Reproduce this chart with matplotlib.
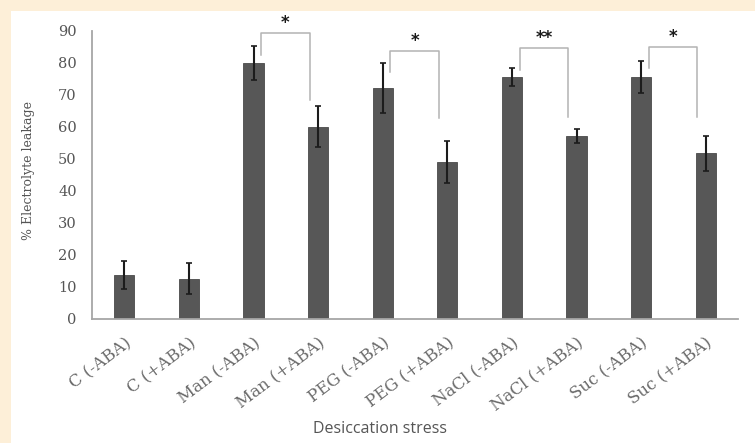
import matplotlib
matplotlib.use("Agg")
import matplotlib.pyplot as plt
from matplotlib.patches import Rectangle

# Electrolyte leakage under desiccation stress, with and without ABA
categories = ["C (-ABA)", "C (+ABA)", "Man (-ABA)", "Man (+ABA)",
              "PEG (-ABA)", "PEG (+ABA)", "NaCl (-ABA)", "NaCl (+ABA)",
              "Suc (-ABA)", "Suc (+ABA)"]
leakage = [13.8, 12.6, 80.0, 60.1, 72.1, 49.0, 75.6, 57.2, 75.6, 51.8]
leakage_err = [4.4, 4.8, 5.3, 6.4, 7.8, 6.5, 2.8, 2.2, 5.0, 5.4]

yticks = [0, 10, 20, 30, 40, 50, 60, 70, 80, 90]

# Significance brackets: (left bar, right bar), top, left/right leg ends, label
bracket_pairs = [(2, 3), (4, 5), (6, 7), (8, 9)]
bracket_top = [89.5, 83.8, 84.8, 85.1]
bracket_left_end = [82.5, 77.3, 77.8, 78.4]
bracket_right_end = [68.4, 62.8, 63.2, 63.2]
bracket_labels = ["*", "*", "**", "*"]

W, H, DPI = 755, 443, 100
fig = plt.figure(figsize=(W / DPI, H / DPI), dpi=DPI, facecolor="white")

# cream frame strips along the top and left edges
cream = "#fdefd8"
fig.patches.append(Rectangle((0, 0), 10.5 / W, 1, transform=fig.transFigure,
                             facecolor=cream, edgecolor="none", zorder=0))
fig.patches.append(Rectangle((0, 1 - 10.5 / H), 1, 10.5 / H, transform=fig.transFigure,
                             facecolor=cream, edgecolor="none", zorder=0))

ax = fig.add_axes([92 / W, 1 - 319 / H, (738 - 92) / W, (319 - 31) / H])
ax.set_facecolor("none")

x = list(range(len(categories)))
ax.bar(x, leakage, width=0.31, color="#575757", edgecolor="#4a4a4a",
       linewidth=0.6, zorder=2)
ax.errorbar(x, leakage, yerr=leakage_err, fmt="none", ecolor="#1c1c1c",
            elinewidth=1.5, capsize=2.5, capthick=1.2, zorder=3)

ax.set_xlim(-0.5, len(categories) - 0.5)
ax.set_ylim(0, 90)
ax.set_yticks(yticks)
ax.set_yticklabels([str(v) for v in yticks], family="DejaVu Serif",
                   fontsize=10.5, color="#555555")
ax.set_xticks(x)
ax.set_xticklabels(categories, family="DejaVu Serif", fontsize=12,
                   color="#6a6a6a", rotation=37, ha="right",
                   rotation_mode="anchor")
ax.tick_params(axis="y", length=0, pad=11)
ax.tick_params(axis="x", length=0, pad=11)

for side in ("top", "right"):
    ax.spines[side].set_visible(False)
for side in ("left", "bottom"):
    ax.spines[side].set_color("#a6a6a6")
    ax.spines[side].set_linewidth(1.3)

ax.set_ylabel("% Electrolyte leakage", family="DejaVu Serif", fontsize=9,
              color="#555555", va="center")
ax.yaxis.set_label_coords(-(92 - 29) / (738 - 92), (319 - 170) / (319 - 31))
ax.set_xlabel("Desiccation stress", family="Open Sans", fontsize=11.5,
              color="#555555", va="center")
ax.xaxis.set_label_coords((380 - 92) / (738 - 92), -(429 - 319) / (319 - 31))

for (i, j), top, lend, rend, lab in zip(bracket_pairs, bracket_top,
                                       bracket_left_end, bracket_right_end,
                                       bracket_labels):
    xl, xr = i + 0.12, j - 0.13
    ax.plot([xl, xl, xr, xr], [lend, top, top, rend], color="#b3b3b3",
            linewidth=1.1, clip_on=False, zorder=1)
    ax.text((xl + xr) / 2, top + 0.2, lab, ha="center", va="bottom",
            fontsize=12, fontweight="bold", color="#1a1a1a", clip_on=False)

fig.savefig("out.png", dpi=DPI, facecolor="white")
